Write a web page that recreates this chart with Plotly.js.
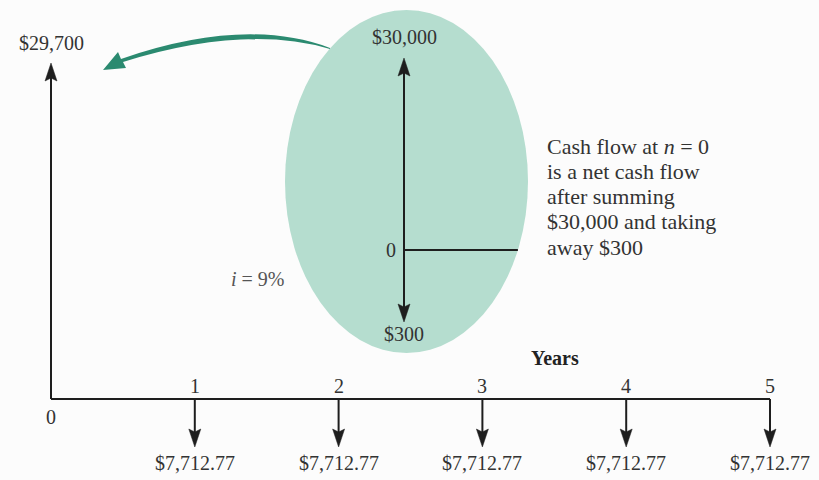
<!DOCTYPE html>
<html><head><meta charset="utf-8">
<script src="https://cdn.plot.ly/plotly-3.0.1.min.js"></script>
<style>html,body{margin:0;padding:0;background:#fcfcfc}</style>
</head><body><div id="chart" style="width:819px;height:480px"></div>
<script>
// ---- data ----
const years = [0, 1, 2, 3, 4, 5];
const cashFlows = [29700, -7712.77, -7712.77, -7712.77, -7712.77, -7712.77];
const flowLabels = ['$29,700', '$7,712.77', '$7,712.77', '$7,712.77', '$7,712.77', '$7,712.77'];
const yearLabels = ['0', '1', '2', '3', '4', '5'];
const axisTitle = 'Years';
const insetFlows = [30000, -300];
const insetLabels = ['$30,000', '$300'];
const insetZeroLabel = '0';
const interestLabel = '<i>i</i> = 9%';
const noteLines = ['Cash flow at <i>n</i> = 0', 'is a net cash flow', 'after summing', '$30,000 and taking', 'away $300'];

// ---- style constants (not data) ----
const PX_PER_YEAR = 143.8, X0PX = 51, AXIS_PX = 399;
const UP_LEN = 336, DOWN_LEN = 48;           // display lengths (diagram not to scale)
const HEAD_L = 18, HEAD_W = 6, NOTCH = 3;
const INK = '#1e1e1e', TXT = '#333333', FONT = 'Liberation Serif, Times New Roman, serif';
const ELL = {x0: 285, x1: 528, y0: 10, y1: 353};
const INSET_X = 404, INSET_ZERO = 250, INSET_UP = 192, INSET_DOWN = 72;

const traces = [];
const annotations = [];
const lineTrace = (x, y, xa, ya, w) => ({x, y, xaxis: xa, yaxis: ya, mode: 'lines', line: {color: INK, width: w || 2}, hoverinfo: 'skip', showlegend: false});
const headTrace = (x, y, xa, ya) => ({x, y, xaxis: xa, yaxis: ya, mode: 'lines', fill: 'toself', fillcolor: INK, line: {color: INK, width: 0.5}, hoverinfo: 'skip', showlegend: false});

// main time line
traces.push(lineTrace([years[0], years[years.length - 1]], [0, 0], 'x', 'y'));
// main cash flow arrows (x in years, y in display units above the time line)
const hx = HEAD_W / PX_PER_YEAR;
years.forEach((yr, i) => {
  const up = cashFlows[i] > 0;
  const tip = up ? UP_LEN : -DOWN_LEN;
  const d = up ? 1 : -1;
  const back = tip - d * HEAD_L;
  traces.push(lineTrace([yr, yr], [0, back + d * NOTCH], 'x', 'y'));
  traces.push(headTrace([yr, yr - hx, yr, yr + hx, yr], [tip, back, back + d * NOTCH, back, tip], 'x', 'y'));
  annotations.push({x: yr, y: up ? tip + 20 : tip - 16, xref: 'x', yref: 'y', text: flowLabels[i], showarrow: false,
    font: {family: FONT, size: 20, color: TXT}});
  if (i > 0) annotations.push({x: yr, y: 13, xref: 'x', yref: 'y', text: yearLabels[i], showarrow: false, font: {family: FONT, size: 20, color: TXT}});
  else annotations.push({x: yr, y: -18, xref: 'x', yref: 'y', text: yearLabels[i], showarrow: false, font: {family: FONT, size: 20, color: TXT}});
});
annotations.push({x: 3.505, y: 41, xref: 'x', yref: 'y', text: '<b>' + axisTitle + '</b>', showarrow: false, font: {family: FONT, size: 20, color: '#222'}});

// inset (pixel axes x2/y2)
const ecx = (ELL.x0 + ELL.x1) / 2, ecy = (ELL.y0 + ELL.y1) / 2, erx = (ELL.x1 - ELL.x0) / 2, ery = (ELL.y1 - ELL.y0) / 2;
const edgeX = ecx + erx * Math.sqrt(1 - Math.pow((INSET_ZERO - ecy) / ery, 2));
traces.push(lineTrace([INSET_X, edgeX], [INSET_ZERO, INSET_ZERO], 'x2', 'y2'));
insetFlows.forEach((v, i) => {
  const up = v > 0;
  const tip = up ? INSET_ZERO - INSET_UP : INSET_ZERO + INSET_DOWN;
  const d = up ? -1 : 1;
  const back = tip - d * HEAD_L;
  traces.push(lineTrace([INSET_X, INSET_X], [INSET_ZERO, back + d * NOTCH], 'x2', 'y2'));
  traces.push(headTrace([INSET_X, INSET_X - HEAD_W, INSET_X, INSET_X + HEAD_W, INSET_X], [tip, back, back + d * NOTCH, back, tip], 'x2', 'y2'));
  annotations.push({x: INSET_X, y: up ? tip - 21 : tip + 12, xref: 'x2', yref: 'y2', text: insetLabels[i], showarrow: false,
    font: {family: FONT, size: 20, color: TXT}});
});
annotations.push({x: INSET_X - 6, y: INSET_ZERO, xref: 'x2', yref: 'y2', xanchor: 'right', text: insetZeroLabel, showarrow: false, font: {family: FONT, size: 20, color: TXT}});
annotations.push({x: 258, y: 279, xref: 'x2', yref: 'y2', text: interestLabel, showarrow: false, font: {family: FONT, size: 20, color: '#555'}});
noteLines.forEach((t, i) => annotations.push({x: 545, y: 146 + i * 25.3, xref: 'x2', yref: 'y2', xanchor: 'left', text: t, showarrow: false,
  font: {family: FONT, size: 22, color: TXT}}));

// invisible anchor point so x2/y2 exist
traces.push({x: [0], y: [0], xaxis: 'x2', yaxis: 'y2', mode: 'markers', marker: {opacity: 0}, hoverinfo: 'skip', showlegend: false});

const shapes = [
  {type: 'circle', xref: 'x2', yref: 'y2', x0: ELL.x0, x1: ELL.x1, y0: ELL.y0, y1: ELL.y1, fillcolor: '#b5ddcf', line: {width: 0}, layer: 'below'},
  {type: 'path', xref: 'x2', yref: 'y2', layer: 'above', fillcolor: '#2b8a70', line: {width: 0},
   path: 'M 330 48 Q 245 16 121 59 L 118 52 L 103 70 L 126 68 L 123 62 Q 245 24 330 49 Z'}
];

const layout = {
  width: 819, height: 480, margin: {l: 0, r: 0, t: 0, b: 0},
  paper_bgcolor: '#fcfcfc', plot_bgcolor: 'rgba(0,0,0,0)', showlegend: false,
  xaxis: {range: [-X0PX / PX_PER_YEAR, (819 - X0PX) / PX_PER_YEAR], visible: false, fixedrange: true},
  yaxis: {range: [AXIS_PX - 480, AXIS_PX], visible: false, fixedrange: true},
  xaxis2: {range: [0, 819], overlaying: 'x', visible: false, fixedrange: true},
  yaxis2: {range: [480, 0], overlaying: 'y', visible: false, fixedrange: true},
  shapes, annotations
};
Plotly.newPlot('chart', traces, layout, {staticPlot: true, displayModeBar: false});
</script></body></html>
